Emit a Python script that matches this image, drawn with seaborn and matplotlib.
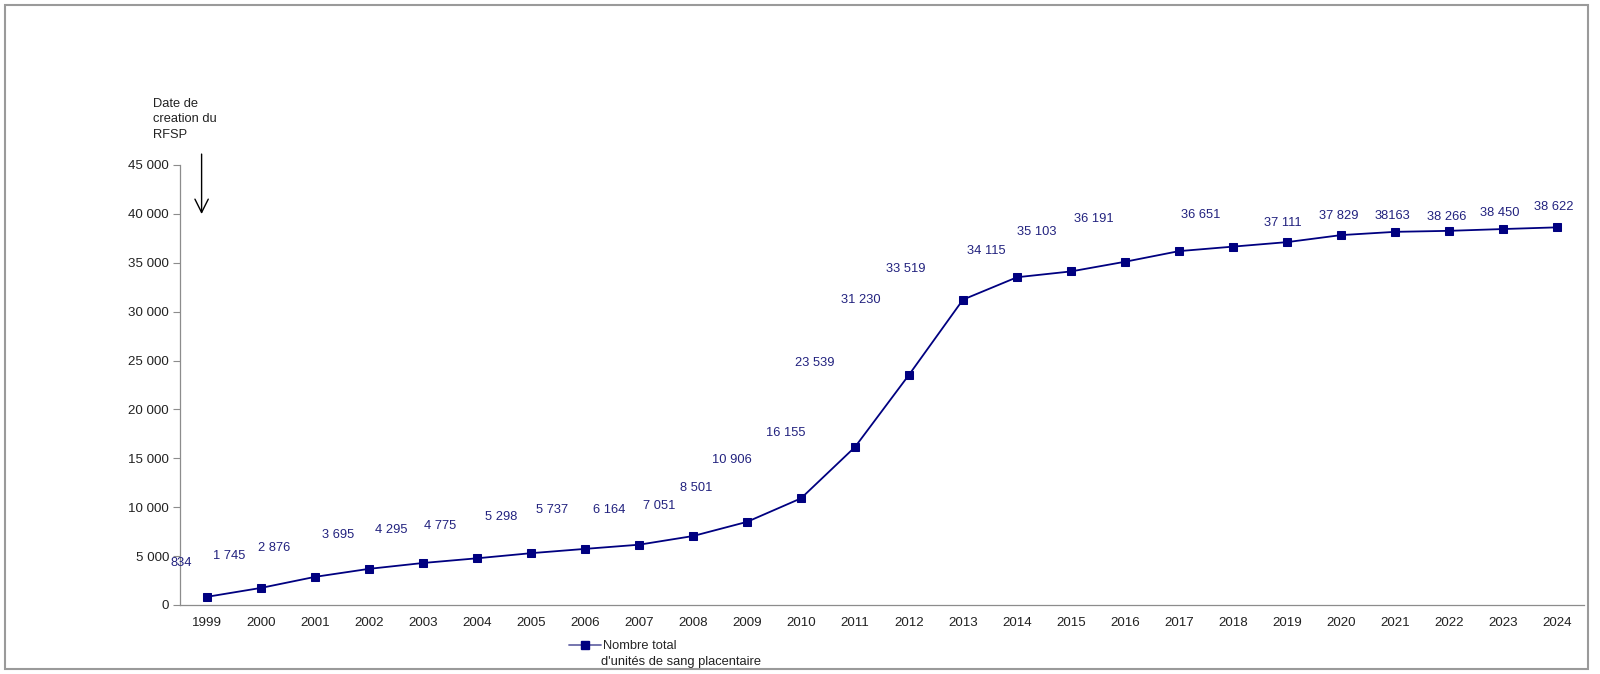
import pandas as pd
import numpy as np
import matplotlib
matplotlib.use("Agg")
import matplotlib.pyplot as plt
import matplotlib.ticker as mticker
from matplotlib.patches import Rectangle
from matplotlib.lines import Line2D
import seaborn as sns

# Data
annees = [str(a) for a in range(1999, 2025)]
unites = [834, 1745, 2876, 3695, 4295, 4775, 5298, 5737, 6164, 7051, 8501,
          10906, 16155, 23539, 31230, 33519, 34115, 35103, 36191, 36651,
          37111, 37829, 38163, 38266, 38450, 38622]
etiquettes = ["834", "1 745", "2 876", "3 695", "4 295", "4 775", "5 298",
              "5 737", "6 164", "7 051", "8 501", "10 906", "16 155", "23 539",
              "31 230", "33 519", "34 115", "35 103", "36 191", "36 651",
              "37 111", "37 829", "38163", "38 266", "38 450", "38 622"]

# label placement (pixels, relative to each point) as in the original
label_dx = [-26, -32, -41, -31, -32, -37, -30, -33, -30, -34, -51, -69, -69,
            -94, -102, -111, -85, -88, -85, -32, -4, -2, -3, -2, -3, -3]
label_dy = [34, 32, 29, 34, 33, 32, 36, 39, 35, 30, 34, 38, 14, 12, 0, 8,
            20, 30, 32, 32, 19, 19, 16, 14, 16, 20]

df = pd.DataFrame({"annee": annees, "unites": unites})

sns.set_style("white")
plt.rcParams["font.family"] = ["Liberation Sans", "DejaVu Sans"]

navy = "#000080"
grey = "#8c8c8c"

fig = plt.figure(figsize=(16, 6.74), dpi=100)
ax = fig.add_axes([0.1125, 0.1024, 0.8775, 0.6528])

sns.lineplot(data=df, x="annee", y="unites", ax=ax, color=navy, marker="s",
             markersize=5.8, markeredgecolor=navy, linewidth=1.3, sort=False)

for i, (v, txt) in enumerate(zip(unites, etiquettes)):
    ax.annotate(txt, xy=(i, v), xytext=(label_dx[i], label_dy[i]),
                textcoords="offset pixels", ha="center", va="center",
                fontsize=9.3, color="#22227f", annotation_clip=False)

ax.set_xlim(-0.5, len(annees) - 0.5)
ax.set_ylim(0, 45000)
ax.set_yticks(np.arange(0, 45001, 5000))
ax.yaxis.set_major_formatter(mticker.FuncFormatter(lambda v, p: f"{v:,.0f}".replace(",", " ")))
ax.set_xticks(range(len(annees)))
ax.set_xticklabels(annees)
ax.set_xticks(np.arange(-0.5, len(annees)), minor=True)
ax.tick_params(axis="x", which="major", length=0, pad=9, labelsize=9.6, labelcolor="#222222")
ax.tick_params(axis="x", which="minor", length=4, width=0.8, color=grey, direction="out")
ax.tick_params(axis="y", length=5, width=0.8, color=grey, pad=3, labelsize=9.6,
               labelcolor="#222222", left=True)
ax.set_xlabel("")
ax.set_ylabel("")

for s in ["top", "right"]:
    ax.spines[s].set_visible(False)
for s in ["left", "bottom"]:
    ax.spines[s].set_color(grey)
    ax.spines[s].set_linewidth(0.9)

# annotation: creation date of the registry
ax.annotate("", xy=(-0.1, 39700), xytext=(-0.1, 46400),
            arrowprops=dict(arrowstyle="->", color="black", lw=1.0,
                            mutation_scale=24),
            annotation_clip=False)
ax.text(-1.0, 51900, "Date de\ncreation du\nRFSP", ha="left", va="top",
        fontsize=9.3, color="#222222", clip_on=False, linespacing=1.4)

# legend under the axis
handle = Line2D([], [], color="#6a6aa8", linewidth=1.3, marker="s",
                markersize=5.8, markerfacecolor=navy, markeredgecolor=navy)
fig.legend([handle], ["Nombre total"], loc="upper left",
           bbox_to_anchor=(569 / 1600, 1 - 640 / 674), frameon=False,
           fontsize=9.3, handlelength=2.5, handletextpad=0.1,
           borderpad=0, borderaxespad=0)
fig.text(601 / 1600, 1 - 662 / 674, "d'unités de sang placentaire",
         ha="left", va="center", fontsize=9.3, color="#222222")

# outer frame
fig.patches.append(Rectangle((5 / 1600, 5 / 674), 1583 / 1600, 664 / 674,
                             transform=fig.transFigure, fill=False,
                             edgecolor="#9a9a9a", linewidth=1.5))

fig.savefig("out.png", dpi=100)
